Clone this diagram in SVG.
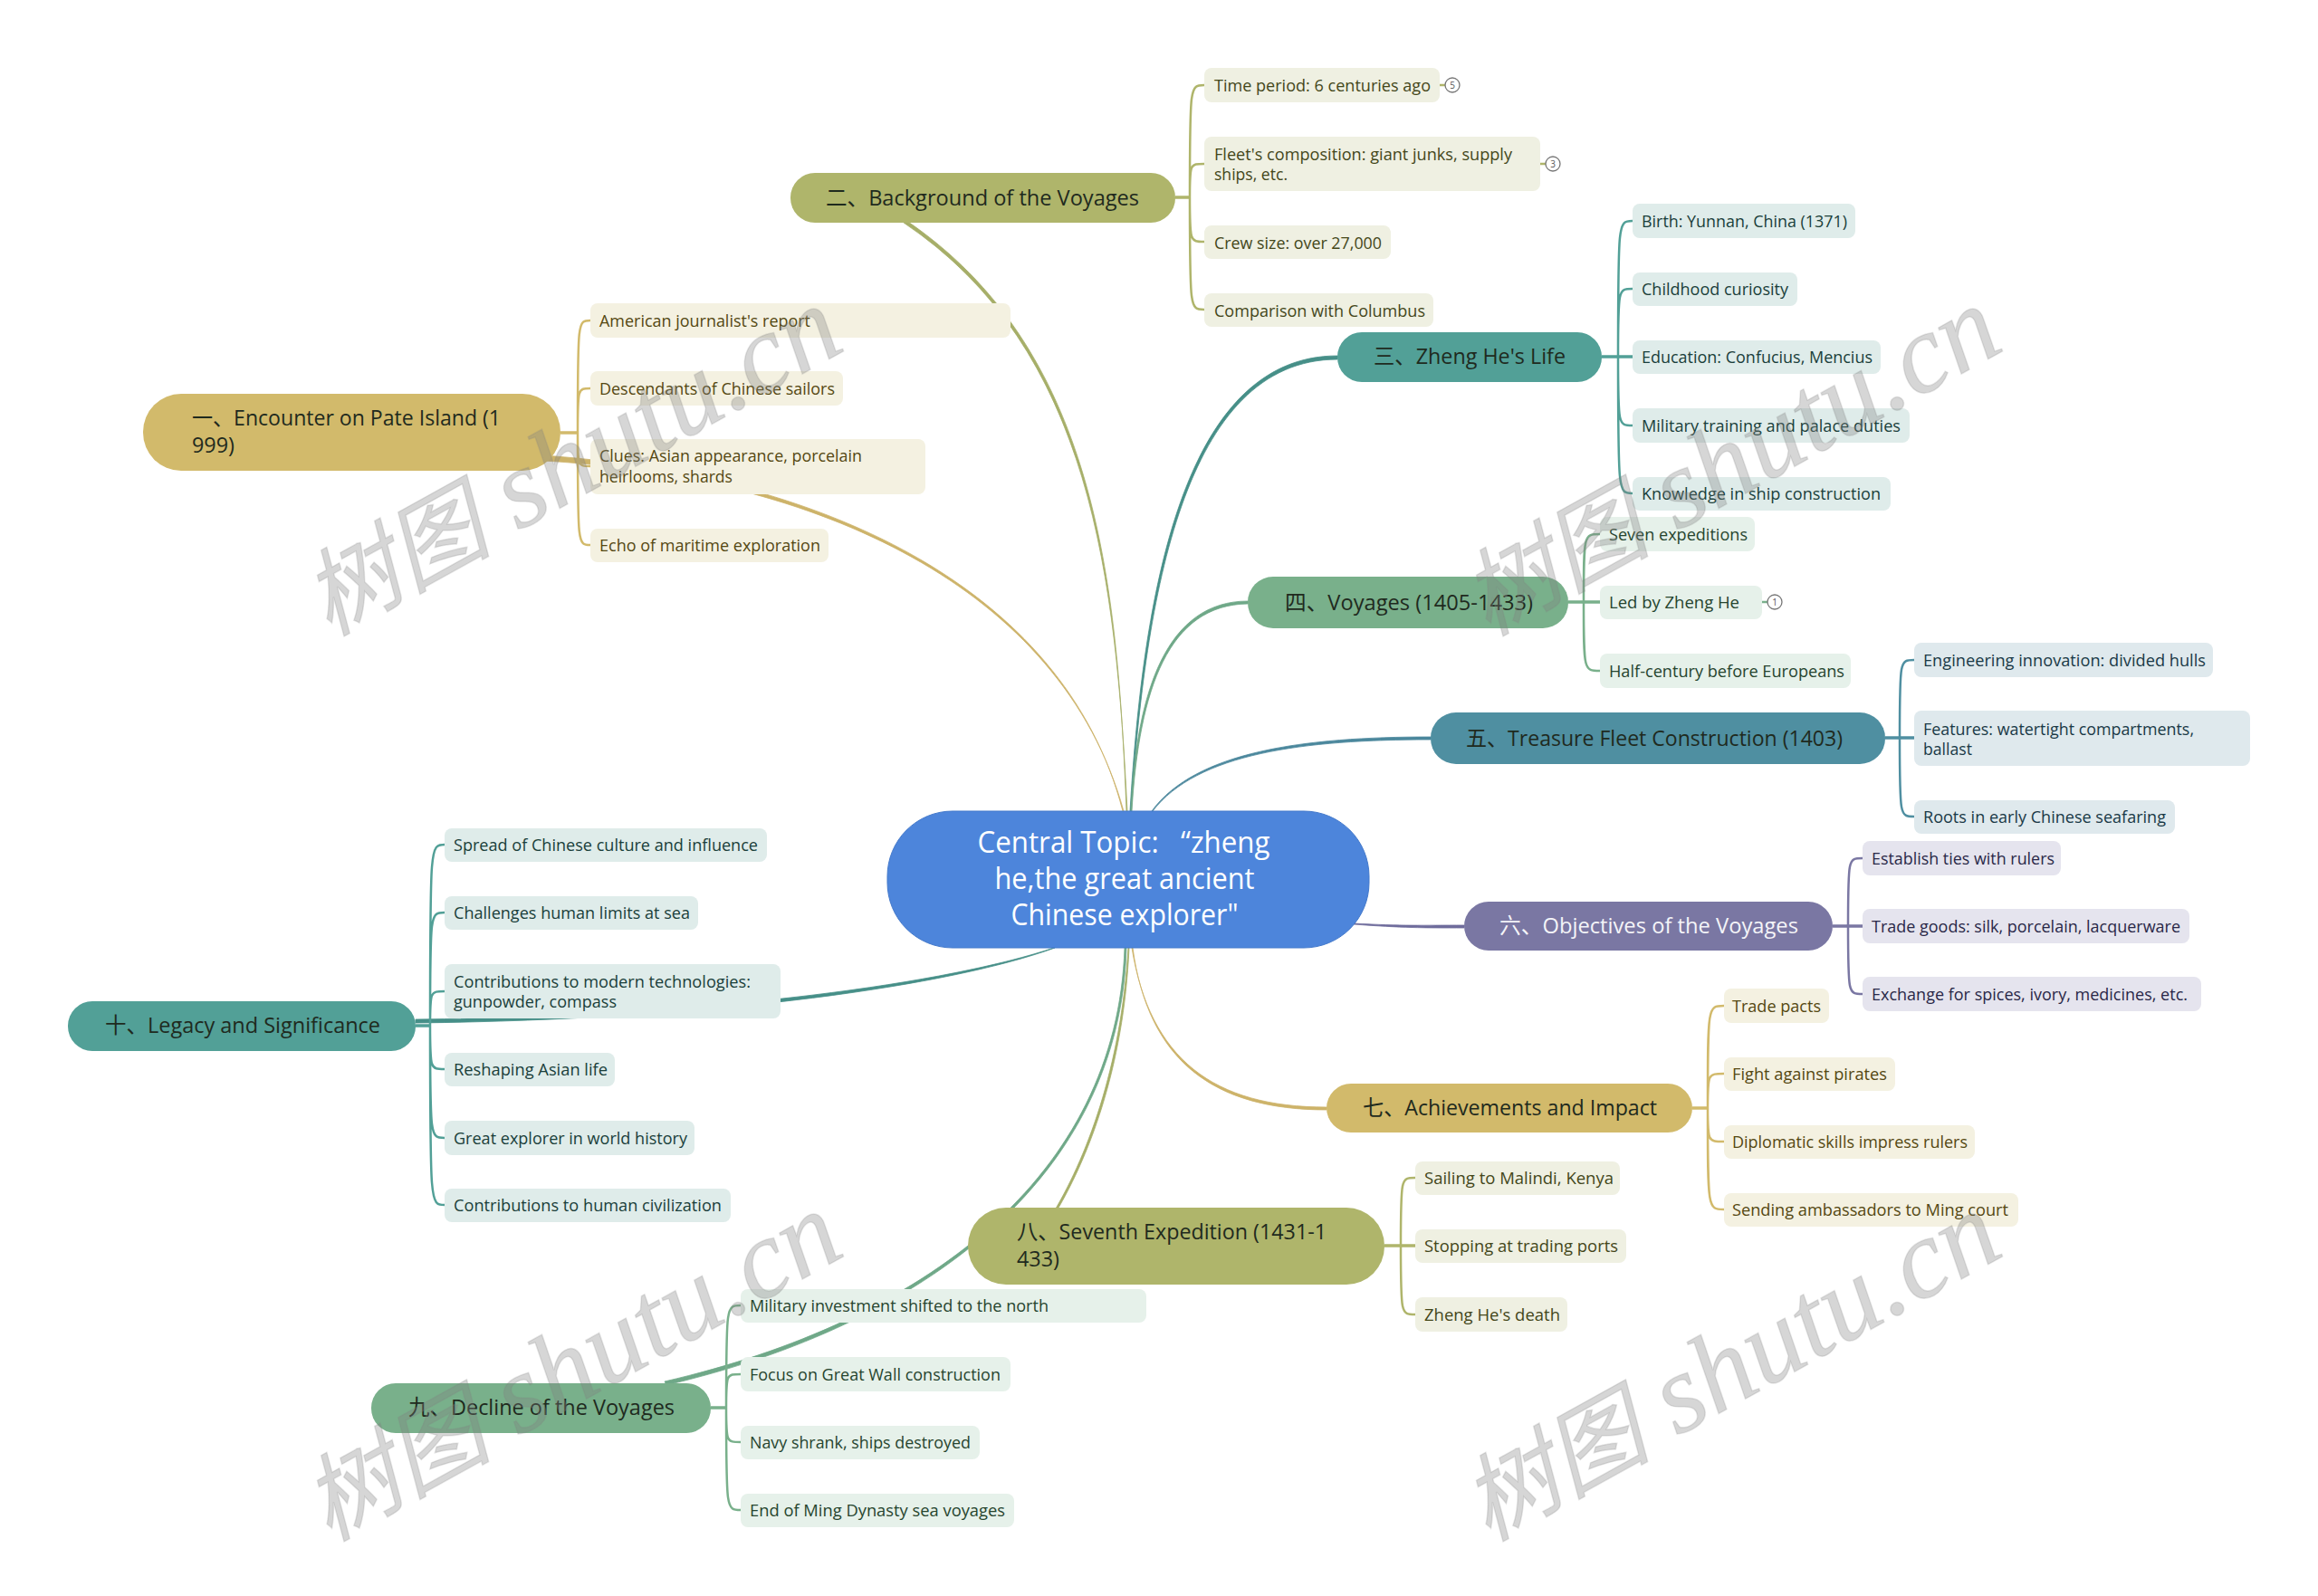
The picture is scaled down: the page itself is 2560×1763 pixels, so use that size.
<svg xmlns="http://www.w3.org/2000/svg" width="2560" height="1763" viewBox="0 0 2560 1763">
<style>
text{font-family:"Open Sans","Noto Sans CJK SC",sans-serif}
.leaf text{font-size:18px;transform:translateY(.7px)}
.leaf rect{rx:8px;ry:8px}
.branch text{font-size:24px}
.l{fill:none;stroke-width:2.5;stroke-linecap:round}
.h{fill:none;stroke-width:3.5}
.t{stroke-width:.8}
.c1 rect{fill:#f4f1e1}.c1 text{fill:#554812}
.c2 rect{fill:#eff0e2}.c2 text{fill:#44471a}
.c3 rect{fill:#dfecea}.c3 text{fill:#1a3f3b}
.c4 rect{fill:#e6f1ea}.c4 text{fill:#26452f}
.c5 rect{fill:#dfe9ed}.c5 text{fill:#1a3a47}
.c6 rect{fill:#e5e4ee}.c6 text{fill:#2a2848}
.n1{fill:#d2ba6b}.n2{fill:#afb56b}.n3{fill:#52a097}.n4{fill:#79b08b}.n5{fill:#4f8fa1}.n6{fill:#7a77a3}
.branch text{fill:#1f2a1e}
.k1{stroke:#d2ba6b}.k2{stroke:#afb56b}.k3{stroke:#52a097}.k4{stroke:#79b08b}.k5{stroke:#4f8fa1}.k6{stroke:#7a77a3}
.f1{fill:#cdb369;stroke:#cdb369}.f2{fill:#a6ae68;stroke:#a6ae68}.f3{fill:#468f88;stroke:#468f88}.f4{fill:#6fa888;stroke:#6fa888}.f5{fill:#4a879c;stroke:#4a879c}.f6{fill:#6f6c9c;stroke:#6f6c9c}
.badge circle{fill:#fff;stroke:#777;stroke-width:1.3}
.badge text{font-size:10px;fill:#555;text-anchor:middle}
.wm{font-family:"Liberation Serif","Noto Sans CJK SC",serif;font-style:italic;font-size:124px;fill:#808080;fill-opacity:.32;stroke:#808080;stroke-opacity:.2;stroke-width:1.5}
.wm tspan{font-size:104px}
</style>
<g id="connectors">
<path class="f1 t" d="M1240 896C1175 645 900 524 600 503L600 509C900 526 1172 647 1241 896Z"/>
<path class="f2 t" d="M1244 896C1234 640 1210 385 1000 243L998 246C1207 386 1232 640 1245 896Z"/>
<path class="f3 t" d="M1248 896C1262 660 1305 393 1477 393L1477 397C1307 397 1265 660 1249 896Z"/>
<path class="f4 t" d="M1249 896C1255 760 1290 664 1378 664L1378 667C1291 668 1258 760 1250 896Z"/>
<path class="f5 t" d="M1272 896C1320 830 1440 814 1580 814L1580 817C1440 817 1322 832 1273 896Z"/>
<path class="f6 t" d="M1495 1020C1550 1023 1570 1022 1617 1022L1617 1025C1570 1025 1550 1025 1495 1021Z"/>
<path class="f1 t" d="M1250 1047C1270 1170 1340 1223 1465 1223L1465 1226C1340 1226 1268 1172 1251 1047Z"/>
<path class="f2 t" d="M1246 1047C1238 1180 1200 1280 1160 1345L1162 1346C1202 1281 1241 1180 1247 1047Z"/>
<path class="f4 t" d="M1242 1047C1234 1300 1020 1460 734 1526L736 1530C1022 1463 1237 1300 1244 1047Z"/>
<path class="f3 t" d="M1164 1047C1050 1085 800 1122 459 1126L459 1130C800 1126 1052 1088 1165 1047Z"/>
<g class="k1"><path class="h" d="M619 478H638"/><path class="l" d="M638 478C638 354 638 354 652 354M638 478C638 429 638 429 652 429M638 478C638 515 638 515 652 515M638 478C638 602 638 602 652 602"/></g>
<g class="k2"><path class="h" d="M1298 218H1314"/><path class="l" d="M1314 218C1314 94 1314 94 1330 94M1314 218C1314 181 1314 181 1330 181M1314 218C1314 267 1314 267 1330 267M1314 218C1314 342 1314 342 1330 342"/><path class="l" d="M1590 94H1596M1701 181H1707"/></g>
<g class="k3"><path class="h" d="M1769 394H1803"/><path class="l" d="M1787 394C1787 244 1787 244 1803 244M1787 394C1787 319 1787 319 1803 319M1787 394C1787 470 1787 470 1803 470M1787 394C1787 545 1787 545 1803 545"/></g>
<g class="k4"><path class="h" d="M1732 665H1767"/><path class="l" d="M1749 665C1749 590 1749 590 1767 590M1749 665C1749 741 1749 741 1767 741M1946 665H1952"/></g>
<g class="k5"><path class="h" d="M2082 815H2114"/><path class="l" d="M2098 815C2098 729 2098 729 2114 729M2098 815C2098 902 2098 902 2114 902"/></g>
<g class="k6"><path class="h" d="M2024 1023H2057"/><path class="l" d="M2041 1023C2041 948 2041 948 2057 948M2041 1023C2041 1098 2041 1098 2057 1098"/></g>
<g class="k1"><path class="h" d="M1869 1224H1886"/><path class="l" d="M1886 1224C1886 1111 1886 1111 1904 1111M1886 1224C1886 1186 1886 1186 1904 1186M1886 1224C1886 1261 1886 1261 1904 1261M1886 1224C1886 1336 1886 1336 1904 1336"/></g>
<g class="k2"><path class="h" d="M1529 1376H1563"/><path class="l" d="M1547 1376C1547 1301 1547 1301 1563 1301M1547 1376C1547 1452 1547 1452 1563 1452"/></g>
<g class="k4"><path class="h" d="M785 1555H802"/><path class="l" d="M802 1555C802 1442 802 1442 818 1442M802 1555C802 1518 802 1518 818 1518M802 1555C802 1593 802 1593 818 1593M802 1555C802 1668 802 1668 818 1668"/></g>
<g class="k3"><path class="h" d="M459 1133H475"/><path class="l" d="M475 1133C475 933 475 933 491 933M475 1133C475 1008 475 1008 491 1008M475 1133C475 1095 475 1095 491 1095M475 1133C475 1181 475 1181 491 1181M475 1133C475 1257 475 1257 491 1257M475 1133C475 1331 475 1331 491 1331"/></g>
</g>
<g id="center"><rect x="980" y="896" width="532" height="151" rx="72" fill="#4d85db" stroke="#4379cb"/>
<g fill="#fff" font-size="32" text-anchor="middle"><text x="1241" y="942" textLength="323" lengthAdjust="spacingAndGlyphs">Central Topic: &#160;&#160;“zheng</text><text x="1242" y="982" textLength="287" lengthAdjust="spacingAndGlyphs">he,the great ancient</text><text x="1242" y="1022" textLength="251" lengthAdjust="spacingAndGlyphs">Chinese explorer"</text></g></g>
<g id="branch1" class="branch"><rect class="n1" x="158" y="435" width="461" height="85" rx="42"/><text x="212" y="470" textLength="341" lengthAdjust="spacingAndGlyphs">一、Encounter on Pate Island (1</text><text x="212" y="500" textLength="47" lengthAdjust="spacingAndGlyphs">999)</text></g>
<g id="leaf1-1" class="leaf c1"><rect x="652" y="335" width="464" height="38"/><text x="662" y="360" textLength="233" lengthAdjust="spacingAndGlyphs">American journalist's report</text></g>
<g id="leaf1-2" class="leaf c1"><rect x="652" y="410" width="279" height="38"/><text x="662" y="435" textLength="260" lengthAdjust="spacingAndGlyphs">Descendants of Chinese sailors</text></g>
<g id="leaf1-3" class="leaf c1"><rect x="652" y="485" width="370" height="61"/><text x="662" y="509" textLength="290" lengthAdjust="spacingAndGlyphs">Clues: Asian appearance, porcelain</text><text x="662" y="532" textLength="147" lengthAdjust="spacingAndGlyphs">heirlooms, shards</text></g>
<g id="leaf1-4" class="leaf c1"><rect x="652" y="584" width="263" height="37"/><text x="662" y="608" textLength="244" lengthAdjust="spacingAndGlyphs">Echo of maritime exploration</text></g>
<g id="branch2" class="branch"><rect class="n2" x="873" y="191" width="425" height="55" rx="27"/><text x="912" y="227" textLength="346" lengthAdjust="spacingAndGlyphs">二、Background of the Voyages</text></g>
<g id="leaf2-1" class="leaf c2"><rect x="1330" y="75" width="260" height="38"/><text x="1341" y="100" textLength="239" lengthAdjust="spacingAndGlyphs">Time period: 6 centuries ago</text></g>
<g id="leaf2-2" class="leaf c2"><rect x="1330" y="151" width="371" height="60"/><text x="1341" y="176" textLength="329" lengthAdjust="spacingAndGlyphs">Fleet's composition: giant junks, supply</text><text x="1341" y="198" textLength="81" lengthAdjust="spacingAndGlyphs">ships, etc.</text></g>
<g id="leaf2-3" class="leaf c2"><rect x="1330" y="249" width="206" height="37"/><text x="1341" y="274" textLength="185" lengthAdjust="spacingAndGlyphs">Crew size: over 27,000</text></g>
<g id="leaf2-4" class="leaf c2"><rect x="1330" y="324" width="253" height="37"/><text x="1341" y="349" textLength="233" lengthAdjust="spacingAndGlyphs">Comparison with Columbus</text></g>
<g id="badge5" class="badge"><circle cx="1604" cy="94" r="8"/><text x="1604" y="98">5</text></g>
<g id="badge3" class="badge"><circle cx="1715" cy="181" r="8"/><text x="1715" y="185">3</text></g>
<g id="branch3" class="branch"><rect class="n3" x="1477" y="367" width="292" height="55" rx="27"/><text x="1517" y="402" textLength="212" lengthAdjust="spacingAndGlyphs">三、Zheng He's Life</text></g>
<g id="leaf3-1" class="leaf c3"><rect x="1803" y="225" width="246" height="38"/><text x="1813" y="250" textLength="227" lengthAdjust="spacingAndGlyphs">Birth: Yunnan, China (1371)</text></g>
<g id="leaf3-2" class="leaf c3"><rect x="1803" y="301" width="182" height="37"/><text x="1813" y="325" textLength="162" lengthAdjust="spacingAndGlyphs">Childhood curiosity</text></g>
<g id="leaf3-3" class="leaf c3"><rect x="1803" y="376" width="274" height="37"/><text x="1813" y="400" textLength="255" lengthAdjust="spacingAndGlyphs">Education: Confucius, Mencius</text></g>
<g id="leaf3-4" class="leaf c3"><rect x="1803" y="451" width="306" height="38"/><text x="1813" y="476" textLength="286" lengthAdjust="spacingAndGlyphs">Military training and palace duties</text></g>
<g id="leaf3-5" class="leaf c3"><rect x="1803" y="527" width="285" height="37"/><text x="1813" y="551" textLength="264" lengthAdjust="spacingAndGlyphs">Knowledge in ship construction</text></g>
<g id="branch4" class="branch"><rect class="n4" x="1378" y="637" width="354" height="57" rx="28"/><text x="1419" y="674" textLength="274" lengthAdjust="spacingAndGlyphs">四、Voyages (1405-1433)</text></g>
<g id="leaf4-1" class="leaf c4"><rect x="1767" y="571" width="171" height="38"/><text x="1777" y="596" textLength="153" lengthAdjust="spacingAndGlyphs">Seven expeditions</text></g>
<g id="leaf4-2" class="leaf c4"><rect x="1767" y="647" width="179" height="37"/><text x="1777" y="671" textLength="144" lengthAdjust="spacingAndGlyphs">Led by Zheng He</text></g>
<g id="leaf4-3" class="leaf c4"><rect x="1767" y="722" width="277" height="38"/><text x="1777" y="747" textLength="260" lengthAdjust="spacingAndGlyphs">Half-century before Europeans</text></g>
<g id="badge1" class="badge"><circle cx="1960" cy="665" r="8"/><text x="1960" y="669">1</text></g>
<g id="branch5" class="branch"><rect class="n5" x="1580" y="787" width="502" height="57" rx="28"/><text x="1619" y="824" textLength="416" lengthAdjust="spacingAndGlyphs">五、Treasure Fleet Construction (1403)</text></g>
<g id="leaf5-1" class="leaf c5"><rect x="2114" y="710" width="330" height="38"/><text x="2124" y="735" textLength="312" lengthAdjust="spacingAndGlyphs">Engineering innovation: divided hulls</text></g>
<g id="leaf5-2" class="leaf c5"><rect x="2114" y="785" width="371" height="61"/><text x="2124" y="811" textLength="299" lengthAdjust="spacingAndGlyphs">Features: watertight compartments,</text><text x="2124" y="833" textLength="54" lengthAdjust="spacingAndGlyphs">ballast</text></g>
<g id="leaf5-3" class="leaf c5"><rect x="2114" y="884" width="288" height="37"/><text x="2124" y="908" textLength="268" lengthAdjust="spacingAndGlyphs">Roots in early Chinese seafaring</text></g>
<g id="branch6" class="branch"><rect class="n6" x="1617" y="996" width="407" height="54" rx="27"/><text x="1656" y="1031" textLength="330" lengthAdjust="spacingAndGlyphs" style="fill:#f4f4f8">六、Objectives of the Voyages</text></g>
<g id="leaf6-1" class="leaf c6"><rect x="2057" y="929" width="219" height="38"/><text x="2067" y="954" textLength="202" lengthAdjust="spacingAndGlyphs">Establish ties with rulers</text></g>
<g id="leaf6-2" class="leaf c6"><rect x="2057" y="1004" width="361" height="38"/><text x="2067" y="1029" textLength="341" lengthAdjust="spacingAndGlyphs">Trade goods: silk, porcelain, lacquerware</text></g>
<g id="leaf6-3" class="leaf c6"><rect x="2057" y="1079" width="374" height="38"/><text x="2067" y="1104" textLength="349" lengthAdjust="spacingAndGlyphs">Exchange for spices, ivory, medicines, etc.</text></g>
<g id="branch7" class="branch"><rect class="n1" x="1465" y="1197" width="404" height="54" rx="27"/><text x="1505" y="1232" textLength="325" lengthAdjust="spacingAndGlyphs">七、Achievements and Impact</text></g>
<g id="leaf7-1" class="leaf c1"><rect x="1904" y="1092" width="116" height="38"/><text x="1913" y="1117" textLength="98" lengthAdjust="spacingAndGlyphs">Trade pacts</text></g>
<g id="leaf7-2" class="leaf c1"><rect x="1904" y="1168" width="189" height="37"/><text x="1913" y="1192" textLength="171" lengthAdjust="spacingAndGlyphs">Fight against pirates</text></g>
<g id="leaf7-3" class="leaf c1"><rect x="1904" y="1243" width="277" height="37"/><text x="1913" y="1267" textLength="260" lengthAdjust="spacingAndGlyphs">Diplomatic skills impress rulers</text></g>
<g id="leaf7-4" class="leaf c1"><rect x="1904" y="1318" width="325" height="37"/><text x="1913" y="1342" textLength="305" lengthAdjust="spacingAndGlyphs">Sending ambassadors to Ming court</text></g>
<g id="branch8" class="branch"><rect class="n2" x="1069" y="1334" width="460" height="85" rx="42"/><text x="1123" y="1369" textLength="342" lengthAdjust="spacingAndGlyphs">八、Seventh Expedition (1431-1</text><text x="1123" y="1399" textLength="47" lengthAdjust="spacingAndGlyphs">433)</text></g>
<g id="leaf8-1" class="leaf c2"><rect x="1563" y="1283" width="226" height="37"/><text x="1573" y="1307" textLength="209" lengthAdjust="spacingAndGlyphs">Sailing to Malindi, Kenya</text></g>
<g id="leaf8-2" class="leaf c2"><rect x="1563" y="1358" width="233" height="37"/><text x="1573" y="1382" textLength="214" lengthAdjust="spacingAndGlyphs">Stopping at trading ports</text></g>
<g id="leaf8-3" class="leaf c2"><rect x="1563" y="1433" width="168" height="38"/><text x="1573" y="1458" textLength="150" lengthAdjust="spacingAndGlyphs">Zheng He's death</text></g>
<g id="branch9" class="branch"><rect class="n4" x="410" y="1528" width="375" height="55" rx="27"/><text x="451" y="1563" textLength="294" lengthAdjust="spacingAndGlyphs">九、Decline of the Voyages</text></g>
<g id="leaf9-1" class="leaf c4"><rect x="818" y="1424" width="448" height="37"/><text x="828" y="1448" textLength="330" lengthAdjust="spacingAndGlyphs">Military investment shifted to the north</text></g>
<g id="leaf9-2" class="leaf c4"><rect x="818" y="1499" width="298" height="38"/><text x="828" y="1524" textLength="277" lengthAdjust="spacingAndGlyphs">Focus on Great Wall construction</text></g>
<g id="leaf9-3" class="leaf c4"><rect x="818" y="1575" width="264" height="37"/><text x="828" y="1599" textLength="244" lengthAdjust="spacingAndGlyphs">Navy shrank, ships destroyed</text></g>
<g id="leaf9-4" class="leaf c4"><rect x="818" y="1650" width="302" height="37"/><text x="828" y="1674" textLength="282" lengthAdjust="spacingAndGlyphs">End of Ming Dynasty sea voyages</text></g>
<g id="branch10" class="branch"><rect class="n3" x="75" y="1106" width="384" height="55" rx="27"/><text x="116" y="1141" textLength="304" lengthAdjust="spacingAndGlyphs">十、Legacy and Significance</text></g>
<g id="leaf10-1" class="leaf c3"><rect x="491" y="915" width="356" height="37"/><text x="501" y="939" textLength="336" lengthAdjust="spacingAndGlyphs">Spread of Chinese culture and influence</text></g>
<g id="leaf10-2" class="leaf c3"><rect x="491" y="990" width="280" height="37"/><text x="501" y="1014" textLength="261" lengthAdjust="spacingAndGlyphs">Challenges human limits at sea</text></g>
<g id="leaf10-3" class="leaf c3"><rect x="491" y="1065" width="371" height="60"/><text x="501" y="1090" textLength="328" lengthAdjust="spacingAndGlyphs">Contributions to modern technologies:</text><text x="501" y="1112" textLength="180" lengthAdjust="spacingAndGlyphs">gunpowder, compass</text></g>
<g id="leaf10-4" class="leaf c3"><rect x="491" y="1163" width="188" height="37"/><text x="501" y="1187" textLength="170" lengthAdjust="spacingAndGlyphs">Reshaping Asian life</text></g>
<g id="leaf10-5" class="leaf c3"><rect x="491" y="1238" width="276" height="38"/><text x="501" y="1263" textLength="258" lengthAdjust="spacingAndGlyphs">Great explorer in world history</text></g>
<g id="leaf10-6" class="leaf c3"><rect x="491" y="1313" width="316" height="37"/><text x="501" y="1337" textLength="296" lengthAdjust="spacingAndGlyphs">Contributions to human civilization</text></g>
<g id="watermark">
<text class="wm" transform="translate(363 703) rotate(-29)"><tspan>树图</tspan> shutu.cn</text>
<text class="wm" transform="translate(1643 703) rotate(-29)"><tspan>树图</tspan> shutu.cn</text>
<text class="wm" transform="translate(363 1703) rotate(-29)"><tspan>树图</tspan> shutu.cn</text>
<text class="wm" transform="translate(1643 1703) rotate(-29)"><tspan>树图</tspan> shutu.cn</text>
</g>
</svg>
